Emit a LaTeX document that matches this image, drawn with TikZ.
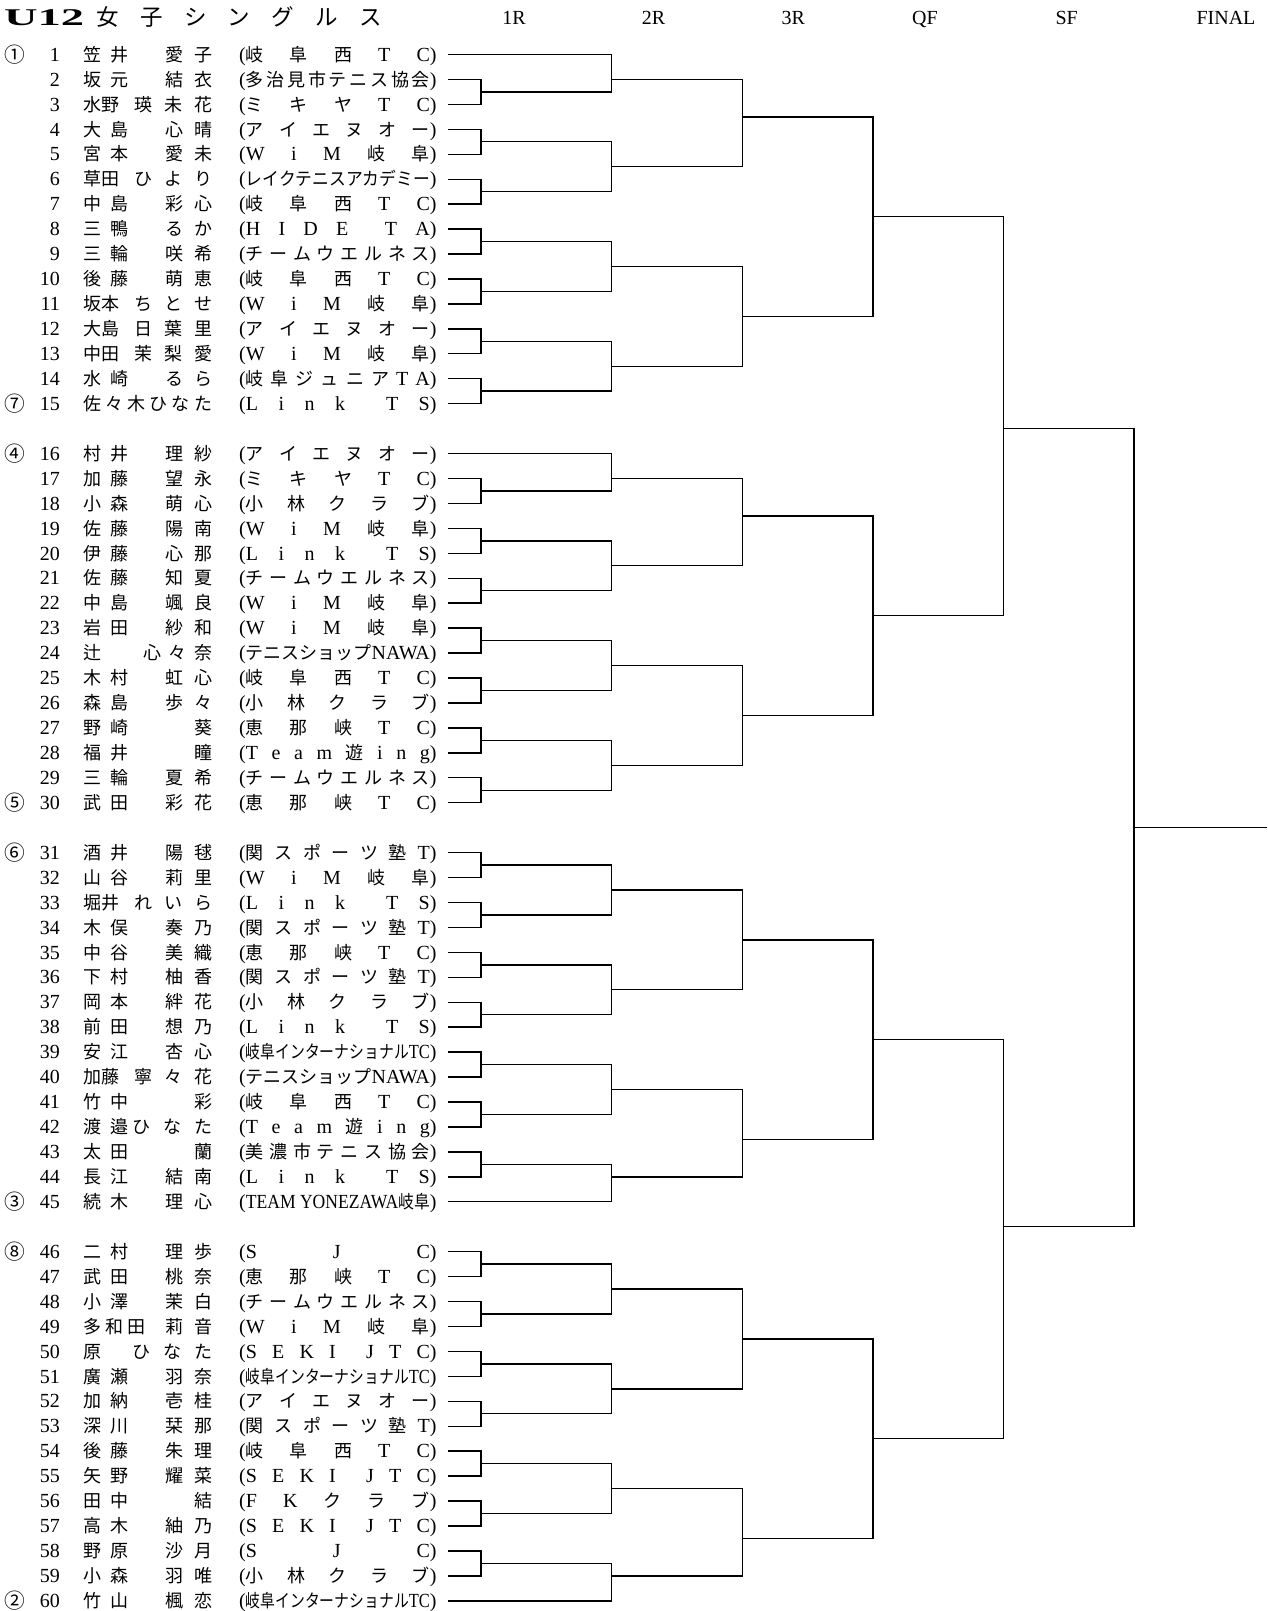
\documentclass[tikz,border=0pt]{standalone}
\usepackage{fontspec}
\usepackage{graphicx}
\setmainfont{Liberation Serif}
\newfontfamily\jpfont{Noto Sans CJK JP}[Scale=0.9]
% automatic switch to the CJK font for CJK characters
\chardef\jpclass=7
\newcount\tmpc
\def\setjpclass#1#2{\tmpc=#1\relax\loop\XeTeXcharclass\tmpc=\jpclass\relax\advance\tmpc by 1\relax\ifnum\tmpc<#2\relax\repeat}
\setjpclass{"2460}{"2500}
\setjpclass{"3000}{"3100}
\setjpclass{"4E00}{"A000}
\setjpclass{"FF00}{"FFF0}
\XeTeXinterchartoks 0 \jpclass = {\begingroup\jpfont}
\XeTeXinterchartoks 4095 \jpclass = {\begingroup\jpfont}
\XeTeXinterchartoks \jpclass 0 = {\endgroup}
\XeTeXinterchartoks \jpclass 4095 = {\endgroup}
\XeTeXinterchartokenstate=1
% distributed text
\newcommand\distr[2]{{\spaceskip=0pt plus 1fil\relax\xspaceskip=0pt plus 1fil\relax\makebox[#1][s]{#2}}}
\newsavebox\clubbox
\newlength\clubW \setlength\clubW{184pt}
\newcommand\club[1]{\sbox\clubbox{\spaceskip=0pt plus 1fil\relax\xspaceskip=0pt plus 1fil\relax #1}%
  \ifdim\wd\clubbox>\clubW (\resizebox{\clubW}{\height}{#1})\else (\distr{\clubW}{#1})\fi}
\newcommand\nAB[2]{\distr{45pt}{#1}\hfill\distr{47pt}{#2}}
\newcommand\nT[2]{#1\hfill\distr{78pt}{#2}}
\newcommand\nA[2]{\distr{45pt}{#1}\hfill #2}
\newcommand\pl[4]{%
  \pgfmathtruncatemacro\hh{2*(#1-1)+2*floor((#1-1)/15)}%
  \coordinate (p#1) at (448,\hh);
  \node[numst] (num#1) at (60,\hh) {#1};
  \node[namest] (nm#1) at (83,\hh) {\makebox[129pt][s]{#3}};
  \node[namest] (cl#1) at (239,\hh) {\club{#4}};
  \if\relax\detokenize{#2}\relax\else\node[seedst] (sd#1) at (15,\hh) {#2};\fi
}
\newcommand\mt[5]{\coordinate (#1) at (#2,#3); \draw[brk] (#4) -- (#4 -| #1) -- (#5 -| #1) -- (#5);}
\begin{document}
\begin{tikzpicture}[x=1pt,y=-1pt,font=\fontsize{20}{24}\selectfont,
  numst/.style={anchor=base east,inner sep=0pt,yshift=-6.7pt},
  namest/.style={anchor=base west,inner sep=0pt,yshift=-6.7pt},
  seedst/.style={anchor=base,inner sep=0pt,yshift=-7.6pt,font=\fontsize{23}{25}\selectfont},
  hdr/.style={anchor=base,inner sep=0pt},
  brk/.style={line width=1.4pt,line join=miter}]
\useasboundingbox (0,0) rectangle (1267,1611);
\node[hdr,anchor=base west] (t1) at (4,26) {\fontsize{24}{26}\selectfont\bfseries\resizebox{80pt}{\height}{U12}};
\node[hdr,anchor=base west] (t2) at (96,26) {\fontsize{25}{28}\selectfont\distr{286pt}{女 子 シ ン グ ル ス}};
\node[hdr] (c1) at (514,24.2) {1R};
\node[hdr] (c2) at (653.6,24.2) {2R};
\node[hdr] (c3) at (793.3,24.2) {3R};
\node[hdr] (c4) at (925,24.2) {QF};
\node[hdr] (c5) at (1066.7,24.2) {SF};
\node[hdr] (c6) at (1226,24.2) {FINAL};
\begin{scope}[shift={(0,54.5)},y=-12.47pt]
\pl{1}{①}{\nAB{笠 井}{愛 子}}{岐 阜 西 T C}
\pl{2}{}{\nAB{坂 元}{結 衣}}{多 治 見 市 テ ニ ス 協 会}
\pl{3}{}{\nT{水野}{瑛 未 花}}{ミ キ ヤ T C}
\pl{4}{}{\nAB{大 島}{心 晴}}{ア イ エ ヌ オ ー}
\pl{5}{}{\nAB{宮 本}{愛 未}}{W i M 岐 阜}
\pl{6}{}{\nT{草田}{ひ よ り}}{レイクテニスアカデミー}
\pl{7}{}{\nAB{中 島}{彩 心}}{岐 阜 西 T C}
\pl{8}{}{\nAB{三 鴨}{る か}}{H I D E \hfil T A}
\pl{9}{}{\nAB{三 輪}{咲 希}}{チ ー ム ウ エ ル ネ ス}
\pl{10}{}{\nAB{後 藤}{萌 恵}}{岐 阜 西 T C}
\pl{11}{}{\nT{坂本}{ち と せ}}{W i M 岐 阜}
\pl{12}{}{\nT{大島}{日 葉 里}}{ア イ エ ヌ オ ー}
\pl{13}{}{\nT{中田}{茉 梨 愛}}{W i M 岐 阜}
\pl{14}{}{\nAB{水 崎}{る ら}}{岐 阜 ジ ュ ニ ア T A}
\pl{15}{⑦}{\distr{129pt}{佐 々 木 ひ な た}}{L i n k \hfil T S}
\pl{16}{④}{\nAB{村 井}{理 紗}}{ア イ エ ヌ オ ー}
\pl{17}{}{\nAB{加 藤}{望 永}}{ミ キ ヤ T C}
\pl{18}{}{\nAB{小 森}{萌 心}}{小 林 ク ラ ブ}
\pl{19}{}{\nAB{佐 藤}{陽 南}}{W i M 岐 阜}
\pl{20}{}{\nAB{伊 藤}{心 那}}{L i n k \hfil T S}
\pl{21}{}{\nAB{佐 藤}{知 夏}}{チ ー ム ウ エ ル ネ ス}
\pl{22}{}{\nAB{中 島}{颯 良}}{W i M 岐 阜}
\pl{23}{}{\nAB{岩 田}{紗 和}}{W i M 岐 阜}
\pl{24}{}{辻\hfill\distr{69pt}{心 々 奈}}{テニスショップNAWA}
\pl{25}{}{\nAB{木 村}{虹 心}}{岐 阜 西 T C}
\pl{26}{}{\nAB{森 島}{歩 々}}{小 林 ク ラ ブ}
\pl{27}{}{\nA{野 崎}{葵}}{恵 那 峡 T C}
\pl{28}{}{\nA{福 井}{瞳}}{T e a m 遊 i n g}
\pl{29}{}{\nAB{三 輪}{夏 希}}{チ ー ム ウ エ ル ネ ス}
\pl{30}{⑤}{\nAB{武 田}{彩 花}}{恵 那 峡 T C}
\pl{31}{⑥}{\nAB{酒 井}{陽 毬}}{関 ス ポ ー ツ 塾 T}
\pl{32}{}{\nAB{山 谷}{莉 里}}{W i M 岐 阜}
\pl{33}{}{\nT{堀井}{れ い ら}}{L i n k \hfil T S}
\pl{34}{}{\nAB{木 俣}{奏 乃}}{関 ス ポ ー ツ 塾 T}
\pl{35}{}{\nAB{中 谷}{美 織}}{恵 那 峡 T C}
\pl{36}{}{\nAB{下 村}{柚 香}}{関 ス ポ ー ツ 塾 T}
\pl{37}{}{\nAB{岡 本}{絆 花}}{小 林 ク ラ ブ}
\pl{38}{}{\nAB{前 田}{想 乃}}{L i n k \hfil T S}
\pl{39}{}{\nAB{安 江}{杏 心}}{岐阜インターナショナルTC}
\pl{40}{}{\nT{加藤}{寧 々 花}}{テニスショップNAWA}
\pl{41}{}{\nA{竹 中}{彩}}{岐 阜 西 T C}
\pl{42}{}{\distr{45pt}{渡 邉}\hfill\distr{80pt}{ひ な た}}{T e a m 遊 i n g}
\pl{43}{}{\nA{太 田}{蘭}}{美 濃 市 テ ニ ス 協 会}
\pl{44}{}{\nAB{長 江}{結 南}}{L i n k \hfil T S}
\pl{45}{③}{\nAB{続 木}{理 心}}{TEAM YONEZAWA岐阜}
\pl{46}{⑧}{\nAB{二 村}{理 歩}}{S J C}
\pl{47}{}{\nAB{武 田}{桃 奈}}{恵 那 峡 T C}
\pl{48}{}{\nAB{小 澤}{茉 白}}{チ ー ム ウ エ ル ネ ス}
\pl{49}{}{\distr{62pt}{多 和 田}\hfill\distr{47pt}{莉 音}}{W i M 岐 阜}
\pl{50}{}{原\hfill\distr{80pt}{ひ な た}}{S E K I \hfil J T C}
\pl{51}{}{\nAB{廣 瀬}{羽 奈}}{岐阜インターナショナルTC}
\pl{52}{}{\nAB{加 納}{壱 桂}}{ア イ エ ヌ オ ー}
\pl{53}{}{\nAB{深 川}{栞 那}}{関 ス ポ ー ツ 塾 T}
\pl{54}{}{\nAB{後 藤}{朱 理}}{岐 阜 西 T C}
\pl{55}{}{\nAB{矢 野}{耀 菜}}{S E K I \hfil J T C}
\pl{56}{}{\nA{田 中}{結}}{F K ク ラ ブ}
\pl{57}{}{\nAB{高 木}{紬 乃}}{S E K I \hfil J T C}
\pl{58}{}{\nAB{野 原}{沙 月}}{S J C}
\pl{59}{}{\nAB{小 森}{羽 唯}}{小 林 ク ラ ブ}
\pl{60}{②}{\nAB{竹 山}{楓 恋}}{岐阜インターナショナルTC}
% section 1
\mt{q11}{481}{3}{p2}{p3}
\mt{q12}{481}{7}{p4}{p5}
\mt{q13}{481}{11}{p6}{p7}
\mt{q14}{481}{15}{p8}{p9}
\mt{q15}{481}{19}{p10}{p11}
\mt{q16}{481}{23}{p12}{p13}
\mt{q17}{481}{27}{p14}{p15}
\mt{r11}{611.6}{2}{p1}{q11}
\mt{r12}{611.6}{9}{q12}{q13}
\mt{r13}{611.6}{17}{q14}{q15}
\mt{r14}{611.6}{25}{q16}{q17}
\mt{t11}{742.2}{5}{r11}{r12}
\mt{t12}{742.2}{21}{r13}{r14}
\mt{u1}{872.8}{13}{t11}{t12}
% section 2
\mt{q21}{481}{35}{p17}{p18}
\mt{q22}{481}{39}{p19}{p20}
\mt{q23}{481}{43}{p21}{p22}
\mt{q24}{481}{47}{p23}{p24}
\mt{q25}{481}{51}{p25}{p26}
\mt{q26}{481}{55}{p27}{p28}
\mt{q27}{481}{59}{p29}{p30}
\mt{r21}{611.6}{34}{p16}{q21}
\mt{r22}{611.6}{41}{q22}{q23}
\mt{r23}{611.6}{49}{q24}{q25}
\mt{r24}{611.6}{57}{q26}{q27}
\mt{t21}{742.2}{37}{r21}{r22}
\mt{t22}{742.2}{53}{r23}{r24}
\mt{u2}{872.8}{45}{t21}{t22}
% section 3
\mt{q31}{481}{65}{p31}{p32}
\mt{q32}{481}{69}{p33}{p34}
\mt{q33}{481}{73}{p35}{p36}
\mt{q34}{481}{77}{p37}{p38}
\mt{q35}{481}{81}{p39}{p40}
\mt{q36}{481}{85}{p41}{p42}
\mt{q37}{481}{89}{p43}{p44}
\mt{r31}{611.6}{67}{q31}{q32}
\mt{r32}{611.6}{75}{q33}{q34}
\mt{r33}{611.6}{83}{q35}{q36}
\mt{r34}{611.6}{90}{q37}{p45}
\mt{t31}{742.2}{71}{r31}{r32}
\mt{t32}{742.2}{87}{r33}{r34}
\mt{u3}{872.8}{79}{t31}{t32}
% section 4
\mt{q41}{481}{97}{p46}{p47}
\mt{q42}{481}{101}{p48}{p49}
\mt{q43}{481}{105}{p50}{p51}
\mt{q44}{481}{109}{p52}{p53}
\mt{q45}{481}{113}{p54}{p55}
\mt{q46}{481}{117}{p56}{p57}
\mt{q47}{481}{121}{p58}{p59}
\mt{r41}{611.6}{99}{q41}{q42}
\mt{r42}{611.6}{107}{q43}{q44}
\mt{r43}{611.6}{115}{q45}{q46}
\mt{r44}{611.6}{122}{q47}{p60}
\mt{t41}{742.2}{103}{r41}{r42}
\mt{t42}{742.2}{119}{r43}{r44}
\mt{u4}{872.8}{111}{t41}{t42}
% semifinals and final
\mt{v1}{1003.4}{30}{u1}{u2}
\mt{v2}{1003.4}{94}{u3}{u4}
\mt{w}{1134}{62}{v1}{v2}
\coordinate (fin) at (1267,62);
\draw[brk] (w) -- (fin);
\end{scope}
\end{tikzpicture}
\end{document}
